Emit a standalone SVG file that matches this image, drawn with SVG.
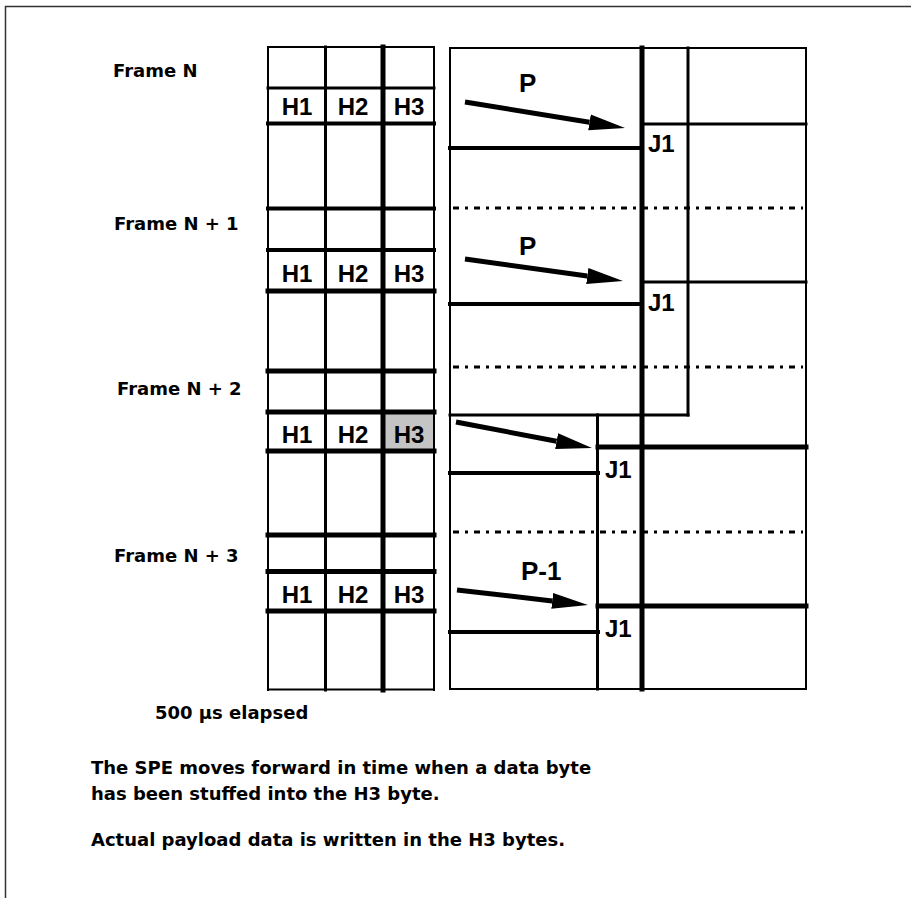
<svg xmlns="http://www.w3.org/2000/svg" width="911" height="898" viewBox="0 0 911 898">
<style>
.g{stroke:#000;fill:none;stroke-linecap:square}
.w2{stroke-width:2}
.w3{stroke-width:3}
.w4{stroke-width:4}
.w5{stroke-width:5}
.dot{stroke:#000;stroke-width:3;fill:none;stroke-dasharray:6,6,3,6}
.lbl{font-family:"DejaVu Sans",sans-serif;font-weight:bold;font-size:18px;fill:#000}
.cell{font-family:"Liberation Sans",Arial,sans-serif;font-weight:bold;font-size:24px;fill:#000;text-anchor:middle}
.j{font-family:"Liberation Sans",Arial,sans-serif;font-weight:bold;font-size:24px;fill:#000}
.p{font-family:"Liberation Sans",Arial,sans-serif;font-weight:bold;font-size:26px;fill:#000}
.arr{stroke:#000;stroke-width:5;fill:none}
</style>
<defs>
<marker id="head" markerUnits="userSpaceOnUse" markerWidth="38" markerHeight="20" viewBox="0 -10 38 20" refX="0" refY="0" orient="auto">
<path d="M0,-8 L36,0 L0,8 z" fill="#000"/>
</marker>
</defs>
<rect width="911" height="898" fill="#fff"/>
<path d="M5.5,898 V6.5 H911" fill="none" stroke="#333" stroke-width="1.5"/>

<g id="labels">
<text class="lbl" x="113" y="77">Frame N</text>
<text class="lbl" x="114" y="230">Frame N + 1</text>
<text class="lbl" x="117" y="395">Frame N + 2</text>
<text class="lbl" x="114" y="562">Frame N + 3</text>
<text class="lbl" x="155" y="719">500 µs elapsed</text>
<text class="lbl" x="91" y="774">The SPE moves forward in time when a data byte</text>
<text class="lbl" x="91" y="800">has been stuffed into the H3 byte.</text>
<text class="lbl" x="91" y="846">Actual payload data is written in the H3 bytes.</text>
</g>

<g id="header-grid">
<rect x="382" y="412" width="52" height="39" fill="#c4c4c4"/>
<line class="g w2" x1="268" y1="47" x2="268" y2="690"/>
<line class="g w3" x1="325.5" y1="47" x2="325.5" y2="690"/>
<line class="g w5" x1="383" y1="47" x2="383" y2="690"/>
<line class="g w2" x1="434" y1="47" x2="434" y2="690"/>
<line class="g w2" x1="268" y1="47" x2="434" y2="47"/>
<line class="g w3" x1="268" y1="88" x2="434" y2="88"/>
<line class="g w4" x1="268" y1="123.5" x2="434" y2="123.5"/>
<line class="g w4" x1="268" y1="208.5" x2="434" y2="208.5"/>
<line class="g w4" x1="268" y1="250" x2="434" y2="250"/>
<line class="g w5" x1="268" y1="291" x2="434" y2="291"/>
<line class="g w5" x1="268" y1="371" x2="434" y2="371"/>
<line class="g w5" x1="268" y1="412" x2="434" y2="412"/>
<line class="g w5" x1="268" y1="451" x2="434" y2="451"/>
<line class="g w5" x1="268" y1="535" x2="434" y2="535"/>
<line class="g w5" x1="268" y1="571.5" x2="434" y2="571.5"/>
<line class="g w5" x1="268" y1="611" x2="434" y2="611"/>
<line class="g w2" x1="268" y1="689.5" x2="434" y2="689.5"/>
<text class="cell" x="297" y="115">H1</text>
<text class="cell" x="353" y="115">H2</text>
<text class="cell" x="409" y="115">H3</text>
<text class="cell" x="297" y="282">H1</text>
<text class="cell" x="353" y="282">H2</text>
<text class="cell" x="409" y="282">H3</text>
<text class="cell" x="297" y="443">H1</text>
<text class="cell" x="353" y="443">H2</text>
<text class="cell" x="409" y="443">H3</text>
<text class="cell" x="297" y="603">H1</text>
<text class="cell" x="353" y="603">H2</text>
<text class="cell" x="409" y="603">H3</text>
</g>

<g id="spe-grid">
<line class="dot" x1="453" y1="208" x2="803" y2="208"/>
<line class="dot" x1="453" y1="367" x2="803" y2="367"/>
<line class="dot" x1="453" y1="532" x2="803" y2="532"/>
<line class="g w2" x1="450" y1="48" x2="450" y2="689"/>
<line class="g w2" x1="450" y1="48" x2="806" y2="48"/>
<line class="g w2" x1="806" y1="48" x2="806" y2="689"/>
<line class="g w2" x1="450" y1="689" x2="806" y2="689"/>
<line class="g w5" x1="642" y1="48" x2="642" y2="689"/>
<line class="g w3" x1="688" y1="48" x2="688" y2="415"/>
<line class="g w3" x1="597.5" y1="415" x2="597.5" y2="689"/>
<line class="g w3" x1="642" y1="124" x2="806" y2="124"/>
<line class="g w4" x1="450" y1="148" x2="642" y2="148"/>
<line class="g w3" x1="642" y1="282" x2="806" y2="282"/>
<line class="g w4" x1="450" y1="304" x2="642" y2="304"/>
<line class="g w3" x1="450" y1="415" x2="688" y2="415"/>
<line class="g w5" x1="598" y1="447" x2="806" y2="447"/>
<line class="g w4" x1="450" y1="473" x2="598" y2="473"/>
<line class="g w5" x1="598" y1="606" x2="806" y2="606"/>
<line class="g w4" x1="450" y1="632" x2="598" y2="632"/>
<text class="j" x="648" y="152">J1</text>
<text class="j" x="648" y="311">J1</text>
<text class="j" x="605" y="478">J1</text>
<text class="j" x="605" y="637">J1</text>
<text class="p" x="519" y="92">P</text>
<text class="p" x="519" y="255">P</text>
<text class="p" x="521" y="580">P-1</text>
</g>

<g id="connectors">
<line class="arr" x1="465" y1="102" x2="589.5" y2="122.3" marker-end="url(#head)"/>
<line class="arr" x1="465" y1="259" x2="587.3" y2="276" marker-end="url(#head)"/>
<line class="arr" x1="456" y1="422" x2="556.6" y2="441.2" marker-end="url(#head)"/>
<line class="arr" x1="457" y1="590" x2="552.2" y2="600.9" marker-end="url(#head)"/>
</g>
</svg>
